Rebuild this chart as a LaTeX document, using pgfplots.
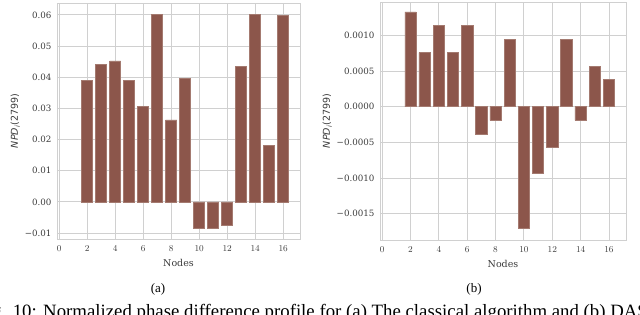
\documentclass[border=0pt]{standalone}
\usepackage{pgfplots}
\pgfplotsset{compat=1.18}
\usepackage{fontspec}
\setmainfont{DejaVu Serif}
\newfontfamily\capfont{Liberation Serif}
\newfontfamily\labfont{DejaVu Sans}
\definecolor{barbrown}{HTML}{8C564B}
\definecolor{baredge}{HTML}{A47A70}
\definecolor{gridc}{HTML}{D0D0D0}
\definecolor{txt}{HTML}{3A3A3A}

\pgfplotstableread{
x y
2 0.0389
3 0.0442
4 0.0452
5 0.0391
6 0.0307
7 0.0602
8 0.0263
9 0.0396
10 -0.0085
11 -0.0085
12 -0.0075
13 0.0435
14 0.0602
15 0.0181
16 0.0597
}\dataA

\pgfplotstableread{
x y
2 0.00133
3 0.00076
4 0.001145
5 0.00076
6 0.001145
7 -0.00038
8 -0.00019
9 0.00095
10 -0.00171
11 -0.00094
12 -0.000565
13 0.00095
14 -0.00019
15 0.00057
16 0.00038
}\dataB

\pgfplotsset{
  npd/.style={
    scale only axis,
    anchor=south west,
    axis line style={gridc, line width=0.9pt},
    grid=major,
    major grid style={gridc, line width=0.9pt},
    major tick length=0pt,
    tick style={draw=none},
    ticklabel style={font=\fontsize{8.7}{10}\selectfont, text=txt},
    xticklabel style={yshift=-3pt},
    yticklabel style={xshift=-2pt},
    label style={font=\fontsize{9.5}{11}\selectfont, text=txt},
    xtick={0,2,4,6,8,10,12,14,16},
    xmin=-0.15, xmax=17.2,
    xlabel={Nodes},
    ylabel={{\labfont\itshape NPD}\textsubscript{\labfont\itshape i}{\labfont(2799)}},
    xlabel style={yshift=-1pt},
    scaled y ticks=false,
    axis on top=false,
  },
}

\begin{document}
\begin{tikzpicture}[x=1pt,y=1pt]
\useasboundingbox (0,0) rectangle (640,314);
\clip (0,0) rectangle (640,314);

\begin{axis}[npd,
  at={(57pt,75pt)}, width=243pt, height=236pt,
  ymin=-0.0119, ymax=0.0638,
  ytick={-0.01,0,0.01,0.02,0.03,0.04,0.05,0.06},
  yticklabels={−0.01,0.00,0.01,0.02,0.03,0.04,0.05,0.06},
  ylabel style={yshift=-2pt},
]
\addplot[ybar, bar width=0.8, fill=barbrown, draw=baredge, line width=0.6pt] table[x=x,y=y] {\dataA};
\end{axis}

\begin{axis}[npd,
  at={(380pt,74pt)}, width=246pt, height=238pt,
  ymin=-0.00187, ymax=0.00147,
  ytick={-0.0015,-0.001,-0.0005,0,0.0005,0.001},
  yticklabels={−0.0015,−0.0010,−0.0005,0.0000,0.0005,0.0010},
  ylabel style={yshift=-2pt},
]
\addplot[ybar, bar width=0.8, fill=barbrown, draw=baredge, line width=0.6pt] table[x=x,y=y] {\dataB};
\end{axis}

\node[font=\capfont\fontsize{13}{15}\selectfont, anchor=center] at (158,25) {(a)};
\node[font=\capfont\fontsize{13}{15}\selectfont, anchor=center] at (474,25) {(b)};
\node[font=\capfont\fontsize{18.8}{22}\selectfont, anchor=base east, inner sep=0pt] at (37,-3) {Fig. 10:};
\node[font=\capfont\fontsize{18.8}{22}\selectfont, anchor=base west, inner sep=0pt] at (43,-3) {Normalized phase difference profile for (a) The classical algorithm and (b) DAS};
\end{tikzpicture}
\end{document}
